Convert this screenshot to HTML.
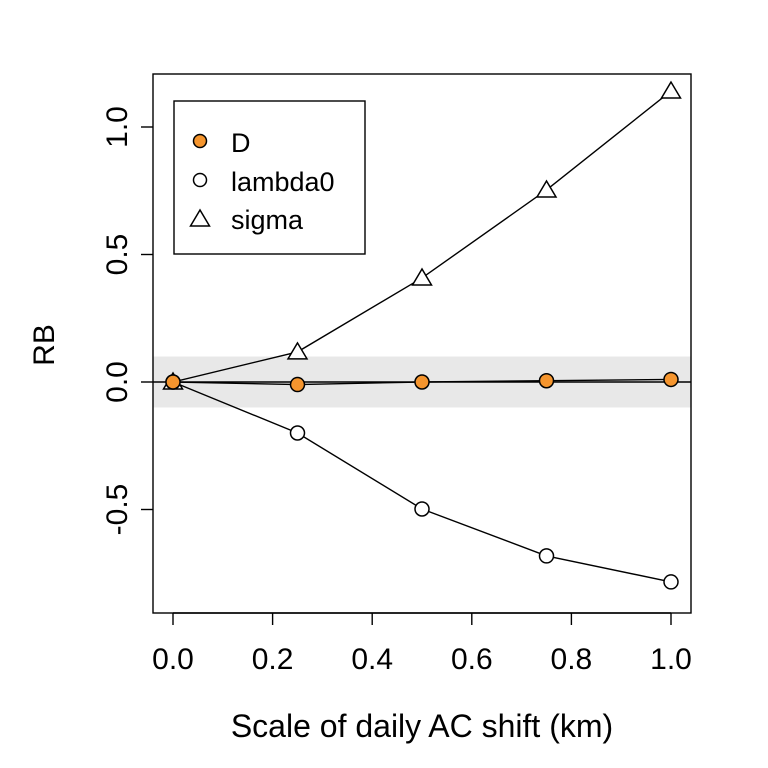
<!DOCTYPE html>
<html><head><meta charset="utf-8"><style>body{margin:0;background:#fff}svg{display:block;font-family:"Liberation Sans",sans-serif}</style></head>
<body>
<svg width="768" height="768" viewBox="0 0 768 768">
<g id="plot"></g>
</svg>
<script>
const xs=[0,0.25,0.5,0.75,1.0];
const seriesD=[0,-0.01,0.0,0.005,0.01];
const seriesLambda0=[0,-0.2,-0.498,-0.682,-0.784];
const seriesSigma=[0,0.118,0.408,0.753,1.141];
const xTicks=[0,0.2,0.4,0.6,0.8,1.0];
const xTickLabels=["0.0","0.2","0.4","0.6","0.8","1.0"];
const yTicks=[-0.5,0,0.5,1.0];
const yTickLabels=["-0.5","0.0","0.5","1.0"];
const band=[-0.1,0.1];
const X=v=>173+v*498, Y=v=>382-v*255;
const ns="http://www.w3.org/2000/svg";
const g=document.getElementById('plot');
function mk(t,a,txt){const e=document.createElementNS(ns,t);for(const k in a)e.setAttribute(k,a[k]);if(txt!=null)e.textContent=txt;g.appendChild(e);return e;}
let e;
e=mk('rect',{x:153,y:Y(band[1]),width:538,height:Y(band[0])-Y(band[1]),fill:'#e8e8e8'});


e=mk('line',{x1:153,x2:691,y1:Y(0),y2:Y(0),stroke:'#000','stroke-width':1.4});


function line(vals,name){const p=vals.map((v,i)=>X(xs[i])+','+Y(v)).join(' ');
 const l=mk('polyline',{points:p,fill:'none',stroke:'#000','stroke-width':1.4});
 
 }
line(seriesSigma,'sigma-line');line(seriesLambda0,'lambda0-line');line(seriesD,'d-line');
function tri(cx,cy){return mk('polygon',{points:`${cx},${cy-10} ${cx-9.5},${cy+6} ${cx+9.5},${cy+6}`,fill:'#fff',stroke:'#000','stroke-width':1.5});}
seriesSigma.forEach((v,i)=>{const t=tri(X(xs[i]),Y(v)+1);
 
 });
seriesLambda0.forEach((v,i)=>{const c=mk('circle',{cx:X(xs[i]),cy:Y(v),r:7,fill:'#fff',stroke:'#000','stroke-width':1.5});
 
 });
seriesD.forEach((v,i)=>{const c=mk('circle',{cx:X(xs[i]),cy:Y(v),r:7,fill:'#f5952e',stroke:'#000','stroke-width':1.5});
 
 });
e=mk('rect',{x:153,y:74,width:538,height:539,fill:'none',stroke:'#000','stroke-width':1.4});


xTicks.forEach((v,i)=>{mk('line',{x1:X(v),x2:X(v),y1:613,y2:625,stroke:'#000','stroke-width':1.4});
 const t=mk('text',{x:X(v),y:669,'font-size':30,'text-anchor':'middle'},xTickLabels[i]);
 
 });
mk('line',{x1:X(0),x2:X(1),y1:613,y2:613,stroke:'#000','stroke-width':1.4});
yTicks.forEach((v,i)=>{mk('line',{x1:141,x2:153,y1:Y(v),y2:Y(v),stroke:'#000','stroke-width':1.4});
 const t=mk('text',{x:127,y:Y(v),'font-size':30,'text-anchor':'middle',transform:`rotate(-90 127 ${Y(v)})`},yTickLabels[i]);
 
 });
e=mk('text',{x:422,y:737,'font-size':32,'text-anchor':'middle'},'Scale of daily AC shift (km)');


e=mk('text',{x:54,y:345,'font-size':30,'text-anchor':'middle',transform:'rotate(-90 54 345)'},'RB');


e=mk('rect',{x:174,y:101,width:191,height:153,fill:'#fff',stroke:'#000','stroke-width':1.4});


e=mk('circle',{cx:200,cy:141,r:6.5,fill:'#f5952e',stroke:'#000','stroke-width':1.5});
e=mk('text',{x:231,y:152,'font-size':27},'D');


e=mk('circle',{cx:200,cy:180,r:6.5,fill:'#fff',stroke:'#000','stroke-width':1.5});
e=mk('text',{x:231,y:191,'font-size':27},'lambda0');


tri(200,220);
e=mk('text',{x:231,y:229,'font-size':27},'sigma');


</script>
</body></html>
